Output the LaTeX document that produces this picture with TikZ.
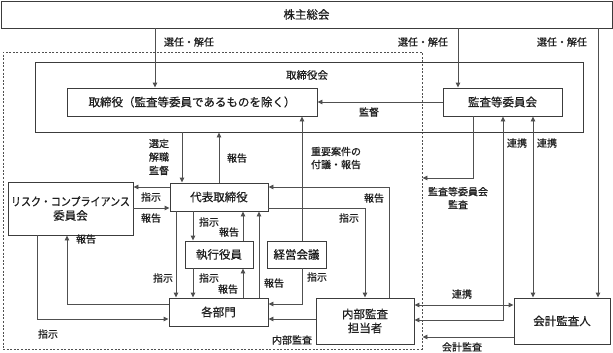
\documentclass[tikz,border=0pt]{standalone}
\usepackage{fontspec}
\setmainfont{Noto Sans CJK JP}[FakeBold=0.6]
\usepackage{tikz}
\usetikzlibrary{arrows.meta,positioning,calc}
\usepackage{xcolor}
\definecolor{ink}{HTML}{1E1E1E}
\definecolor{wire}{HTML}{505050}
\definecolor{edge}{HTML}{3C3C3C}
\tikzset{
  govbox/.style={rectangle,draw=edge,fill=white,text=ink,inner sep=2pt,
    font=\fontsize{11.5}{14}\selectfont,line width=0.9pt,align=center},
  lbl/.style={text=ink,inner sep=1pt,font=\fontsize{10}{13}\selectfont,
    align=center},
  arr/.style={-{Triangle[length=5pt,width=4.5pt]},line width=0.9pt,color=wire},
  biarr/.style={{Triangle[length=5pt,width=4.5pt]}-{Triangle[length=5pt,width=4.5pt]},
    line width=0.9pt,color=wire},
  dashframe/.style={rectangle,draw=wire,dash pattern=on 2pt off 1.6pt,
    line width=0.9pt,inner sep=0pt},
}

\begin{document}
\begin{tikzpicture}[x=1pt,y=-1pt]
  \useasboundingbox[fill=white] (0,0) rectangle (613,353);
  % frames
  \node[dashframe,minimum width=419pt,minimum height=297pt] (exec) at (212.5,200.5) {};
  \node[govbox,fill=none,minimum width=548pt,minimum height=70pt] (torikai) at (309,97) {};
  \node[lbl,font=\fontsize{10.5}{13}\selectfont] (lTorikai) at (307,75) {取締役会};
  % boxes
  \node[govbox,minimum width=611pt,minimum height=27pt] (kabu) at (306.5,14.5) {株主総会};
  \node[govbox,minimum width=250pt,minimum height=28pt] (tori) at (192,102) {取締役（監査等委員であるものを除く）};
  \node[govbox,minimum width=119pt,minimum height=28pt] (kansa) at (502.5,102) {監査等委員会};
  \node[govbox,minimum width=98pt,minimum height=28pt] (daihyo) at (219,197) {代表取締役};
  \node[govbox,minimum width=125pt,minimum height=53pt] (risk) at (70.5,208.5)
    {\scalebox{0.87}[1]{リスク・コンプライアンス}\\委員会};
  \node[govbox,minimum width=68pt,minimum height=27pt] (shikko) at (219,254.5) {執行役員};
  \node[govbox,minimum width=59pt,minimum height=27pt] (keiei) at (296.5,254.5) {経営会議};
  \node[govbox,minimum width=99pt,minimum height=28pt] (kakubu) at (218.5,312) {各部門};
  \node[govbox,minimum width=98pt,minimum height=46pt] (naibu) at (365,321) {内部監査\\担当者};
  \node[govbox,minimum width=96pt,minimum height=46pt] (kaikei) at (562,321) {会計監査人};
  % connectors
  \draw[arr] (kabu.south -| 155,0) -- (tori.north -| 155,0);
  \draw[arr] (kabu.south -| 458,0) -- (kansa.north -| 458,0);
  \draw[arr] (kabu.south -| 598,0) -- (kaikei.north -| 598,0);
  \draw[arr] (kansa.west) -- (tori.east);
  \draw[arr] (torikai.south -| 182,0) -- (daihyo.north -| 182,0);
  \draw[arr] (daihyo.north) -- (torikai.south -| daihyo.north);
  \draw[arr] (daihyo.west |- 0,187) -- (risk.east |- 0,187);
  \draw[arr] (risk.east |- 0,208) -- (daihyo.west |- 0,208);
  \draw[arr] (daihyo.south -| 193,0) -- (shikko.north -| 193,0);
  \draw[arr] (shikko.north -| 243,0) -- (daihyo.south -| 243,0);
  \draw[arr] (daihyo.south -| 176,0) -- (kakubu.north -| 176,0);
  \draw[arr] (shikko.south -| 193,0) -- (kakubu.north -| 193,0);
  \draw[arr] (kakubu.north -| 243,0) -- (shikko.south -| 243,0);
  \draw[arr] (kakubu.north -| 259,0) -- (daihyo.south -| 259,0);
  \draw[arr] (keiei.north -| 302,0) -- (tori.south -| 302,0);
  \draw[arr] (keiei.south -| 302,0) |- (kakubu.east |- 0,304);
  \draw[arr] (naibu.west |- 0,319) -- (kakubu.east |- 0,319);
  \draw[arr] (naibu.north -| 389,0) |- (daihyo.east |- 0,187);
  \draw[arr] (daihyo.east |- 0,208) -| (naibu.north);
  \draw[arr] (risk.south -| 37,0) |- (kakubu.west |- 0,319);
  \draw[arr] (kakubu.west |- 0,304) -| (risk.south -| 67,0);
  \draw[arr] (kansa.south -| 473,0) |- (exec.east |- 0,178);
  \draw[biarr] (kansa.south -| 503,0) |- (naibu.east |- 0,320);
  \draw[biarr] (kansa.south -| 533,0) -- (kaikei.north -| 533,0);
  \draw[biarr] (naibu.east |- 0,305) -- (kaikei.west |- 0,305);
  \draw[arr] (kaikei.west |- 0,337) -- (exec.east |- 0,337);
  % labels
  \node[lbl] (lSen1) at (189,42) {選任・解任};
  \node[lbl] (lSen2) at (423,42) {選任・解任};
  \node[lbl] (lSen3) at (562,42) {選任・解任};
  \node[lbl] (lKantoku) at (369,112) {監督};
  \node[lbl,font=\fontsize{10}{13.5}\selectfont] (lSentei) at (159,157) {選定\\解職\\監督};
  \node[lbl] (lHoA) at (237,158) {報告};
  \node[lbl,align=left] (lJuyo) at (336,158) {重要案件の\\付議・報告};
  \node[lbl] (lShiA) at (151,197) {指示};
  \node[lbl] (lHoB) at (151,218) {報告};
  \node[lbl] (lHoC) at (86,239) {報告};
  \node[lbl] (lShiB) at (48,334) {指示};
  \node[lbl] (lShiC) at (209,222) {指示};
  \node[lbl] (lHoD) at (229,232) {報告};
  \node[lbl] (lShiD) at (163,278) {指示};
  \node[lbl] (lShiE) at (209,278) {指示};
  \node[lbl] (lHoE) at (228,289) {報告};
  \node[lbl] (lHoF) at (274,283) {報告};
  \node[lbl] (lShiF) at (317,277) {指示};
  \node[lbl] (lNaibu) at (292,340) {内部監査};
  \node[lbl] (lHoG) at (374,198) {報告};
  \node[lbl] (lShiG) at (349,218) {指示};
  \node[lbl] (lKansa) at (458,198) {監査等委員会\\監査};
  \node[lbl] (lRen1) at (517,143) {連携};
  \node[lbl] (lRen2) at (547,143) {連携};
  \node[lbl] (lRen3) at (462,294) {連携};
  \node[lbl] (lKaikei) at (462,347) {会計監査};
\end{tikzpicture}
\end{document}
